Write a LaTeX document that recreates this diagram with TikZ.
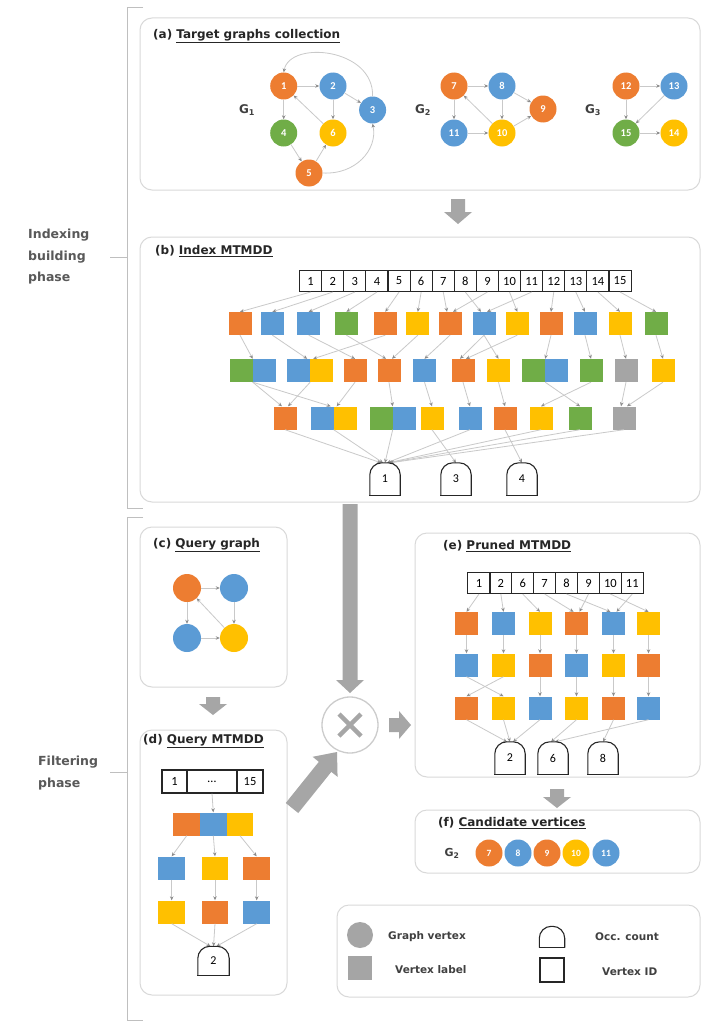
\documentclass[tikz,border=0pt]{standalone}
\usepackage{fontspec}
\setmainfont{DejaVu Sans}
\newfontfamily\numfont{Carlito}
\usetikzlibrary{arrows.meta,calc}

\definecolor{cor}{HTML}{ED7D31}
\definecolor{cbl}{HTML}{5B9BD5}
\definecolor{cgr}{HTML}{70AD47}
\definecolor{cye}{HTML}{FFC000}
\definecolor{cgy}{HTML}{A5A5A5}
\definecolor{panelline}{HTML}{D9D9D9}
\definecolor{linkline}{HTML}{C9C9C9}
\definecolor{tipgray}{HTML}{8C8C8C}
\definecolor{fatgray}{HTML}{A6A6A6}

% block arrow from tail #1 to tip #2: shaft half width #3, head half width #4, head length #5
\newcommand\fatarrow[5]{%
  \coordinate (fa-base) at ($(#2)!#5!(#1)$);
  \fill[bigarrow] ($(#1)!#3!90:(#2)$) -- ($(fa-base)!#3!90:(#2)$)
    -- ($(fa-base)!#4!90:(#2)$) -- (#2) -- ($(fa-base)!#4!-90:(#2)$)
    -- ($(fa-base)!#3!-90:(#2)$) -- ($(#1)!#3!-90:(#2)$) -- cycle;}

\begin{document}
\begin{tikzpicture}[x=1pt, y=-1pt,
  panel/.style={draw=panelline, line width=1pt, rounded corners=12pt, fill=white},
  ttl/.style={anchor=west, inner sep=0pt, font=\bfseries\fontsize{12}{14}\selectfont, text=black!85},
  gl/.style={inner sep=0pt, font=\bfseries\fontsize{12}{12}\selectfont, text=black!75},
  vtx/.style={circle, minimum size=27pt, inner sep=0pt, font=\numfont\bfseries\fontsize{10.5}{10.5}\selectfont, text=white},
  lab/.style={rectangle, minimum size=23pt, inner sep=0pt},
  dsq/.style={rectangle, minimum width=26.7pt, minimum height=23pt, inner sep=0pt},
  idc/.style={draw=black!85, line width=1.1pt, minimum width=22.1pt, minimum height=21pt, inner sep=0pt, font=\numfont\fontsize{12.5}{12.5}\selectfont},
  occ/.style={minimum width=30pt, minimum height=32pt, inner sep=0pt, font=\numfont\fontsize{12}{12}\selectfont},
  occline/.style={draw=black!85, line width=1.1pt, rounded corners=12pt},
  lnk/.style={draw=linkline, line width=0.8pt, -{Stealth[length=4pt,width=3.5pt,color=tipgray]}},
  brk/.style={draw=black!25, line width=1pt},
  phase/.style={anchor=west, align=left, inner sep=0pt, font=\bfseries\fontsize{12.5}{21.5}\selectfont, text=black!65},
  lgt/.style={anchor=west, inner sep=0pt, font=\bfseries\fontsize{10.5}{12}\selectfont, text=black!75},
  bigarrow/.style={fill=fatgray},
]
\useasboundingbox (0,0) rectangle (712,1025);
\fill[white] (0,0) rectangle (712,1025);

% ---------- phase brackets ----------
\draw[brk] (143,8) -- (127,8) -- (127,508) -- (143,508);
\draw[brk] (143,517) -- (127,517) -- (127,1020) -- (143,1020);
\coordinate (ib) at (127,257); \coordinate (ibt) at (110,257);
\coordinate (fb) at (127,772); \coordinate (fbt) at (110,772);
\draw[brk] (ib) -- (ibt);
\draw[brk] (fb) -- (fbt);
\node[phase] (ph1) at (28,257) {Indexing\\building\\phase};
\node[phase] (ph2) at (38,773) {Filtering\\phase};

% ---------- panels ----------
\draw[panel] (140,18) rectangle (700,190);
\draw[panel] (140,237) rectangle (700,502);
\draw[panel] (140,527) rectangle (287,687);
\draw[panel] (140,730) rectangle (287,995);
\draw[panel] (415,533) rectangle (700,777);
\draw[panel] (415,810) rectangle (700,873);
\draw[panel] (337,905) rectangle (700,997);

\node[ttl] (ta) at (153,36) {(a) \underline{Target graphs collection}};
\node[ttl] (tb) at (155,251) {(b) \underline{Index MTMDD}};
\node[ttl] (tc) at (153,545) {(c) \underline{Query graph}};
\node[ttl] (td) at (143,741) {(d) \underline{Query MTMDD}};
\node[ttl] (te) at (443,546) {(e) \underline{Pruned MTMDD}};
\node[ttl] (tf) at (438,823) {(f) \underline{Candidate vertices}};

% ---------- (a) target graphs ----------
\node[gl] (G1) at (247,110) {G\textsubscript{1}};
\node[vtx, fill=cor] (g1) at (283.7,86) {1};
\node[vtx, fill=cbl] (g2) at (333,86) {2};
\node[vtx, fill=cbl] (g3) at (372.6,110) {3};
\node[vtx, fill=cgr] (g4) at (283.7,133) {4};
\node[vtx, fill=cye] (g6) at (333,133) {6};
\node[vtx, fill=cor] (g5) at (309,173) {5};
\draw[lnk] (g1) -- (g2);
\draw[lnk] (g2) -- (g3);
\draw[lnk] (g1) -- (g4);
\draw[lnk] (g2) -- (g6);
\draw[lnk] (g6) -- (g1);
\draw[lnk] (g4) -- (g5);
\draw[lnk] (g5) -- (g6);
\draw[lnk] (g5.east) .. controls (355,175) and (378,150) .. (g3.south);
\draw[lnk] (g3.north) .. controls (374,48) and (290,40) .. (g1.north);

\node[gl] (G2) at (423,110) {G\textsubscript{2}};
\node[vtx, fill=cor] (g7) at (454,86) {7};
\node[vtx, fill=cbl] (g8) at (502,86) {8};
\node[vtx, fill=cor] (g9) at (543,109) {9};
\node[vtx, fill=cbl] (g11) at (454,133) {11};
\node[vtx, fill=cye] (g10) at (502,133) {10};
\draw[lnk] (g7) -- (g8);
\draw[lnk] (g8) -- (g9);
\draw[lnk] (g7) -- (g11);
\draw[lnk] (g8) -- (g10);
\draw[lnk] (g10) -- (g7);
\draw[lnk] (g11) -- (g10);
\draw[lnk] (g10) -- (g9);

\node[gl] (G3) at (593,110) {G\textsubscript{3}};
\node[vtx, fill=cor] (g12) at (626,86) {12};
\node[vtx, fill=cbl] (g13) at (674,86) {13};
\node[vtx, fill=cgr] (g15) at (626,133) {15};
\node[vtx, fill=cye] (g14) at (674,133) {14};
\draw[lnk] (g12) -- (g13);
\draw[lnk] (g12) -- (g15);
\draw[lnk] (g13) -- (g15);
\draw[lnk] (g15) -- (g14);

% ---------- (b) index MTMDD ----------
\foreach \i in {1,...,15}
  \node[idc] (b\i) at ({299.6+22.1*(\i-0.5)},281) {\i};

\foreach \x/\c [count=\k] in {240/cor, 272.4/cbl, 308.7/cbl, 346.4/cgr, 385.3/cor, 417.8/cye, 450/cor, 484/cbl, 517.3/cye, 551/cor, 585/cbl, 620/cye, 656/cgr}
  \node[lab, fill=\c] (r1-\k) at (\x,323.5) {};
\foreach \x/\c [count=\k] in {241/cgr, 264/cbl, 298.5/cbl, 321.5/cye, 355/cor, 389/cor, 424.5/cbl, 463/cor, 498.5/cye, 533.5/cgr, 556.5/cbl, 591/cgr, 626/cgy, 663/cye}
  \node[lab, fill=\c] (r2-\k) at (\x,370.5) {};
\foreach \x/\c [count=\k] in {285/cor, 322/cbl, 345/cye, 381/cgr, 404/cbl, 432/cye, 470/cbl, 505/cor, 541/cye, 580/cgr, 624/cgy}
  \node[lab, fill=\c] (r3-\k) at (\x,418) {};

\node[occ] (o1) at (385,479) {1};
\node[occ] (o3) at (456,479) {3};
\node[occ] (o4) at (522,479) {4};

% vertex IDs to first labels
\draw[lnk] (b1.south) -- (r1-1.north);
\draw[lnk] (b2.south) -- (r1-2.north);
\draw[lnk] (b3.south) -- (r1-3.north);
\draw[lnk] (b4.south) -- (r1-4.north);
\draw[lnk] (b5.south) -- (r1-5.north);
\draw[lnk] (b6.south) -- (r1-6.north);
\draw[lnk] (b7.south) -- ([xshift=-3pt]r1-7.north);
\draw[lnk] (b9.south) -- ([xshift=3pt]r1-7.north);
\draw[lnk] (b8.south) -- ([xshift=-3pt]r1-8.north);
\draw[lnk] (b11.south) -- ([xshift=3pt]r1-8.north);
\draw[lnk] (b10.south) -- (r1-9.north);
\draw[lnk] (b12.south) -- (r1-10.north);
\draw[lnk] (b13.south) -- (r1-11.north);
\draw[lnk] (b14.south) -- (r1-12.north);
\draw[lnk] (b15.south) -- (r1-13.north);
% first to second level
\draw[lnk] (r1-1.south) -- (r2-1.north east);
\draw[lnk] (r1-2.south) -- ([xshift=-3pt]r2-3.north east);
\draw[lnk] (r1-5.south) -- ([xshift=3pt]r2-3.north east);
\draw[lnk] (r1-3.south) -- (r2-5.north);
\draw[lnk] (r1-4.south) -- ([xshift=-3pt]r2-6.north);
\draw[lnk] (r1-6.south) -- ([xshift=3pt]r2-6.north);
\draw[lnk] (r1-7.south) -- (r2-7.north);
\draw[lnk] (r1-8.south) -- ([xshift=-3pt]r2-8.north);
\draw[lnk] (r1-9.south) -- ([xshift=3pt]r2-8.north);
\draw[lnk] (r1-8.south) -- (r2-9.north);
\draw[lnk] (r1-10.south) -- (r2-10.north east);
\draw[lnk] (r1-11.south) -- (r2-12.north);
\draw[lnk] (r1-12.south) -- (r2-13.north);
\draw[lnk] (r1-13.south) -- (r2-14.north);
% second to third level
\draw[lnk] (r2-1.south east) -- ([xshift=-3pt]r3-1.north);
\draw[lnk] (r2-3.south east) -- ([xshift=3pt]r3-1.north);
\draw[lnk] (r2-1.south east) -- ([xshift=-3pt]r3-2.north east);
\draw[lnk] (r2-5.south) -- ([xshift=3pt]r3-2.north east);
\draw[lnk] (r2-6.south) -- (r3-4.north east);
\draw[lnk] (r2-7.south) -- (r3-6.north);
\draw[lnk] (r2-8.south) -- (r3-7.north);
\draw[lnk] (r2-9.south) -- (r3-8.north);
\draw[lnk] (r2-10.south east) -- (r3-10.north);
\draw[lnk] (r2-12.south) -- (r3-9.north);
\draw[lnk] (r2-13.south) -- ([xshift=-3pt]r3-11.north);
\draw[lnk] (r2-14.south) -- ([xshift=3pt]r3-11.north);
% third level to occurrence counts
\draw[lnk] (r3-1.south) -- ([xshift=-4pt]o1.north);
\draw[lnk] (r3-2.south east) -- ([xshift=-2pt]o1.north);
\draw[lnk] (r3-4.south east) -- (o1.north);
\draw[lnk] (r3-7.south) -- ([xshift=2pt]o1.north);
\draw[lnk] (r3-9.south) -- ([xshift=3pt]o1.north);
\draw[lnk] (r3-10.south) -- ([xshift=4pt]o1.north);
\draw[lnk] (r3-11.south) -- ([xshift=5pt]o1.north);
\draw[lnk] (r3-6.south) -- (o3.north);
\draw[lnk] (r3-8.south) -- (o4.north);

% ---------- (c) query graph ----------
\node[vtx, fill=cor, minimum size=28pt] (qo) at (187,588) {};
\node[vtx, fill=cbl, minimum size=28pt] (qb1) at (234,588) {};
\node[vtx, fill=cbl, minimum size=28pt] (qb2) at (187,638) {};
\node[vtx, fill=cye, minimum size=28pt] (qy) at (234,638) {};
\draw[lnk] (qo) -- (qb1);
\draw[lnk] (qo) -- (qb2);
\draw[lnk] (qb1) -- (qy);
\draw[lnk] (qb2) -- (qy);
\draw[lnk] (qy) -- (qo);

% ---------- (d) query MTMDD ----------
\node[idc, minimum width=25pt, minimum height=23pt] (d1) at (174.5,781.5) {1};
\node[idc, minimum width=50pt, minimum height=23pt] (d2) at (212,781.5) {\ldots};
\node[idc, minimum width=26pt, minimum height=23pt] (d3) at (250,781.5) {15};
\node[dsq, fill=cor] (dr1-1) at (186.7,824) {};
\node[dsq, fill=cbl] (dr1-2) at (213.3,824) {};
\node[dsq, fill=cye] (dr1-3) at (240,824) {};
\node[dsq, fill=cbl] (dr2-1) at (171.7,868) {};
\node[dsq, fill=cye] (dr2-2) at (215,868) {};
\node[dsq, fill=cor] (dr2-3) at (256.7,868) {};
\node[dsq, fill=cye] (dr3-1) at (171.7,912) {};
\node[dsq, fill=cor] (dr3-2) at (215,912) {};
\node[dsq, fill=cbl] (dr3-3) at (256.7,912) {};
\node[occ, minimum width=31pt, minimum height=29pt] (dq) at (213.5,961) {2};
\draw[lnk] (d2.south) -- (dr1-2.north);
\draw[lnk] (dr1-1.south) -- (dr2-1.north);
\draw[lnk] (dr1-2.south) -- (dr2-2.north);
\draw[lnk] (dr1-3.south) -- (dr2-3.north);
\foreach \i in {1,2,3} \draw[lnk] (dr2-\i.south) -- (dr3-\i.north);
\draw[lnk] (dr3-1.south) -- ([xshift=-3pt]dq.north);
\draw[lnk] (dr3-2.south) -- (dq.north);
\draw[lnk] (dr3-3.south) -- ([xshift=3pt]dq.north);

% ---------- (e) pruned MTMDD ----------
\foreach \v [count=\k] in {1,2,6,7,8,9,10,11}
  \node[idc] (e\k) at ({468+21.9*(\k-0.5)},583) {\v};
\foreach \x/\c [count=\k] in {466.5/cor, 503.5/cbl, 540/cye, 576.5/cor, 613.5/cbl, 648.5/cye}
  \node[lab, fill=\c] (s1-\k) at (\x,623.5) {};
\foreach \x/\c [count=\k] in {466.5/cbl, 503.5/cye, 540/cor, 576.5/cbl, 613.5/cye, 648.5/cor}
  \node[lab, fill=\c] (s2-\k) at (\x,665) {};
\foreach \x/\c [count=\k] in {466.5/cor, 503.5/cye, 540/cbl, 576.5/cye, 613.5/cor, 648.5/cbl}
  \node[lab, fill=\c] (s3-\k) at (\x,708) {};
\node[occ] (q2) at (510,758) {2};
\node[occ] (q6) at (553,758) {6};
\node[occ] (q8) at (603,758) {8};
\draw[lnk] (e1.south) -- (s1-1.north);
\draw[lnk] (e2.south) -- (s1-2.north);
\draw[lnk] (e3.south) -- (s1-3.north);
\draw[lnk] (e4.south) -- ([xshift=-3pt]s1-4.north);
\draw[lnk] (e6.south) -- ([xshift=3pt]s1-4.north);
\draw[lnk] (e5.south) -- ([xshift=-3pt]s1-5.north);
\draw[lnk] (e8.south) -- ([xshift=3pt]s1-5.north);
\draw[lnk] (e7.south) -- (s1-6.north);
\foreach \i in {1,...,6} \draw[lnk] (s1-\i.south) -- (s2-\i.north);
\draw[lnk] (s2-1.south) -- (s3-2.north);
\draw[lnk] (s2-2.south) -- (s3-1.north);
\foreach \i in {3,...,6} \draw[lnk] (s2-\i.south) -- (s3-\i.north);
\draw[lnk] (s3-1.south) -- ([xshift=-3pt]q2.north);
\draw[lnk] (s3-2.south) -- (q2.north);
\draw[lnk] (s3-3.south) -- ([xshift=3pt]q2.north);
\draw[lnk] (s3-4.south) -- ([xshift=-2pt]q6.north);
\draw[lnk] (s3-6.south) -- ([xshift=2pt]q6.north);
\draw[lnk] (s3-5.south) -- (q8.north);

% ---------- (f) candidate vertices ----------
\node[gl, font=\bfseries\fontsize{11}{11}\selectfont] (Gf) at (452,853) {G\textsubscript{2}};
\foreach \x/\c/\v [count=\k] in {489/cor/7, 518/cbl/8, 547/cor/9, 576/cye/10, 606/cbl/11}
  \node[vtx, fill=\c, font=\numfont\bfseries\fontsize{9.5}{9.5}\selectfont] (f\k) at (\x,853) {\v};

% ---------- legend ----------
\node[circle, fill=cgy, minimum size=26pt, inner sep=0pt] (lgv) at (360,935) {};
\node[lgt] (lgvt) at (388,937) {Graph vertex};
\node[lab, fill=cgy, minimum size=24pt] (lgl) at (360,968) {};
\node[lgt] (lglt) at (395,970) {Vertex label};
\node[occ, minimum width=25pt, minimum height=21pt] (lgo) at (552,937) {};
\node[lgt] (lgot) at (595,937) {Occ. count};
\node[draw=black!85, line width=1.1pt, minimum size=24pt, inner sep=0pt] (lgi) at (552,970) {};
\node[lgt] (lgit) at (602,972) {Vertex ID};

% occurrence-count outlines (flat bottom, rounded top)
\foreach \n in {o1,o3,o4,dq,q2,q6,q8,lgo}{
  \draw[occline] (\n.south west) -- (\n.north west) -- (\n.north east) -- (\n.south east);
  \draw[draw=black!85, line width=1.1pt, line cap=rect] (\n.south west) -- (\n.south east);
}

% ---------- flow arrows and combination ----------
\node[circle, draw=black!20, line width=1.3pt, minimum size=56pt, inner sep=0pt] (mul) at (350,725) {};
\draw[fatgray, line width=4.5pt] ($(mul)+(-11,-11)$) -- ($(mul)+(11,11)$);
\draw[fatgray, line width=4.5pt] ($(mul)+(-11,11)$) -- ($(mul)+(11,-11)$);

\coordinate (ab-t) at (458,199); \coordinate (ab-h) at (458,224);
\fatarrow{ab-t}{ab-h}{7pt}{14pt}{12pt}
\coordinate (bx-t) at (350,504); \coordinate (bx-h) at (350,693);
\fatarrow{bx-t}{bx-h}{7.5pt}{14pt}{13pt}
\coordinate (cd-t) at (213,697); \coordinate (cd-h) at (213,715);
\fatarrow{cd-t}{cd-h}{7pt}{14pt}{11pt}
\coordinate (dx-t) at (292,808); \coordinate (dx-h) at (337,752);
\fatarrow{dx-t}{dx-h}{8pt}{16pt}{19pt}
\coordinate (xe-t) at (389,725); \coordinate (xe-h) at (411,725);
\fatarrow{xe-t}{xe-h}{7pt}{14pt}{12pt}
\coordinate (ef-t) at (557,789); \coordinate (ef-h) at (557,808);
\fatarrow{ef-t}{ef-h}{7pt}{14pt}{11pt}
\end{tikzpicture}
\end{document}
